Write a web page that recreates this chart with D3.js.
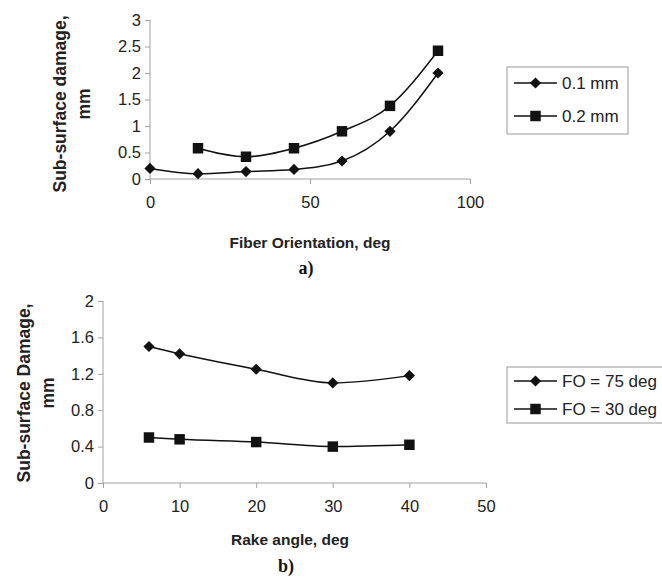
<!DOCTYPE html>
<html>
<head>
<meta charset="utf-8">
<script src="https://cdn.jsdelivr.net/npm/d3@7"></script>
<style>
  body { margin: 0; background: #fff; }
  svg { display: block; font-family: "Liberation Sans", Arial, sans-serif; }
  .axis path, .axis line { stroke: #a0a0a0; }
  .axis text { fill: #222; font-size: 16.5px; }
</style>
</head>
<body>
<svg id="chart"></svg>
<script>
// panel a) - sub-surface damage vs fiber orientation
const fiberAngle = [0, 15, 30, 45, 60, 75, 90];
const dmg01 = [0.2, 0.1, 0.14, 0.18, 0.34, 0.9, 2.0];
const dmg02 = [null, 0.58, 0.42, 0.58, 0.9, 1.38, 2.42];
const aXTicks = [0, 50, 100];
const aYTicks = [0, 0.5, 1, 1.5, 2, 2.5, 3];

// panel b) - sub-surface damage vs rake angle
const rakeAngle = [6, 10, 20, 30, 40];
const dmgFO75 = [1.5, 1.42, 1.25, 1.1, 1.18];
const dmgFO30 = [0.5, 0.48, 0.45, 0.4, 0.42];
const bXTicks = [0, 10, 20, 30, 40, 50];
const bYTicks = [0, 0.4, 0.8, 1.2, 1.6, 2];

const width = 662, height = 584;
const svg = d3.select("#chart").attr("width", width).attr("height", height);

const diamond = d3.symbol().type(d3.symbolDiamond2).size(80);
const square = d3.symbol().type(d3.symbolSquare2).size(140);

function drawPanel(p) {
  const x = d3.scaleLinear().domain(p.xDomain).range([p.left, p.right]);
  const y = d3.scaleLinear().domain(p.yDomain).range([p.bottom, p.top]);

  svg.append("g")
     .attr("class", "axis")
     .attr("transform", "translate(0," + p.bottom + ")")
     .call(d3.axisBottom(x).tickValues(p.xTicks).tickFormat(d => String(d))
             .tickSize(5).tickPadding(12).tickSizeOuter(0))
     .call(g => g.select(".domain").attr("d", "M" + p.left + ",0H" + p.right));

  svg.append("g")
     .attr("class", "axis")
     .attr("transform", "translate(" + p.left + ",0)")
     .call(d3.axisLeft(y).tickValues(p.yTicks).tickFormat(d => String(d))
             .tickSize(5).tickPadding(4).tickSizeOuter(0))
     .call(g => g.select(".domain").attr("d", "M0," + p.top + "V" + p.bottom));

  const line = d3.line()
                 .x(d => x(d[0]))
                 .y(d => y(d[1]))
                 .curve(d3.curveMonotoneX);

  p.series.forEach(s => {
    const pts = p.xs.map((v, i) => [v, s.values[i]]).filter(d => d[1] != null);
    svg.append("path")
       .datum(pts)
       .attr("d", line)
       .attr("fill", "none")
       .attr("stroke", "#111")
       .attr("stroke-width", 1.5);
    svg.append("g")
       .selectAll("path")
       .data(pts)
       .enter()
       .append("path")
       .attr("transform", d => "translate(" + x(d[0]) + "," + y(d[1]) + ")")
       .attr("d", s.symbol)
       .attr("fill", "#111");
  });

  // y label, two lines rotated
  const yl = svg.append("text")
                .attr("transform", "translate(" + p.yLabelX + "," + p.yLabelY + ") rotate(-90)")
                .attr("text-anchor", "middle")
                .style("font-size", "17.5px")
                .style("font-weight", "bold")
                .attr("fill", "#222");
  yl.append("tspan").attr("x", 0).attr("dy", 0).text(p.yLabel[0]);
  yl.append("tspan").attr("x", 0).attr("dy", 24).text(p.yLabel[1]);

  svg.append("text")
     .attr("x", p.xLabelX)
     .attr("y", p.xLabelY)
     .attr("text-anchor", "middle")
     .style("font-size", "15.5px")
     .style("font-weight", "bold")
     .attr("fill", "#222")
     .text(p.xLabel);

  svg.append("text")
     .attr("x", p.xLabelX - 4)
     .attr("y", p.tagY)
     .attr("text-anchor", "middle")
     .style("font-family", "'Liberation Serif', 'Times New Roman', serif")
     .style("font-size", "18px")
     .style("font-weight", "bold")
     .attr("fill", "#111")
     .text(p.tag);

  // legend
  const lg = svg.append("g").attr("transform", "translate(" + p.legend.x + "," + p.legend.y + ")");
  lg.append("rect")
    .attr("width", p.legend.w)
    .attr("height", p.legend.h)
    .attr("fill", "#fff")
    .attr("stroke", "#999");
  p.series.forEach((s, i) => {
    const cy = p.legend.first + i * p.legend.step;
    lg.append("line")
      .attr("x1", 7).attr("x2", 50)
      .attr("y1", cy).attr("y2", cy)
      .attr("stroke", "#111").attr("stroke-width", 1.5);
    lg.append("path")
      .attr("transform", "translate(28.5," + cy + ")")
      .attr("d", s.symbol)
      .attr("fill", "#111");
    lg.append("text")
      .attr("x", 55)
      .attr("y", cy + 6)
      .style("font-size", "17px")
      .attr("fill", "#222")
      .text(s.name);
  });
}

drawPanel({
  xDomain: [0, 100], yDomain: [0, 3],
  left: 150, right: 470, top: 20, bottom: 179,
  xTicks: aXTicks, yTicks: aYTicks, xs: fiberAngle,
  series: [
    {name: "0.1 mm", values: dmg01, symbol: diamond},
    {name: "0.2 mm", values: dmg02, symbol: square}
  ],
  yLabel: ["Sub-surface damage,", "mm"], yLabelX: 66, yLabelY: 104,
  xLabel: "Fiber Orientation, deg", xLabelX: 310, xLabelY: 248,
  tag: "a)", tagY: 274,
  legend: {x: 507, y: 67, w: 121, h: 67, first: 16, step: 33}
});

drawPanel({
  xDomain: [0, 50], yDomain: [0, 2],
  left: 103, right: 486, top: 301, bottom: 483,
  xTicks: bXTicks, yTicks: bYTicks, xs: rakeAngle,
  series: [
    {name: "FO = 75 deg", values: dmgFO75, symbol: diamond},
    {name: "FO = 30 deg", values: dmgFO30, symbol: square}
  ],
  yLabel: ["Sub-surface Damage,", "mm"], yLabelX: 30, yLabelY: 393,
  xLabel: "Rake angle, deg", xLabelX: 290, xLabelY: 545,
  tag: "b)", tagY: 572,
  legend: {x: 507, y: 367, w: 160, h: 56, first: 14, step: 28}
});
</script>
</body>
</html>
